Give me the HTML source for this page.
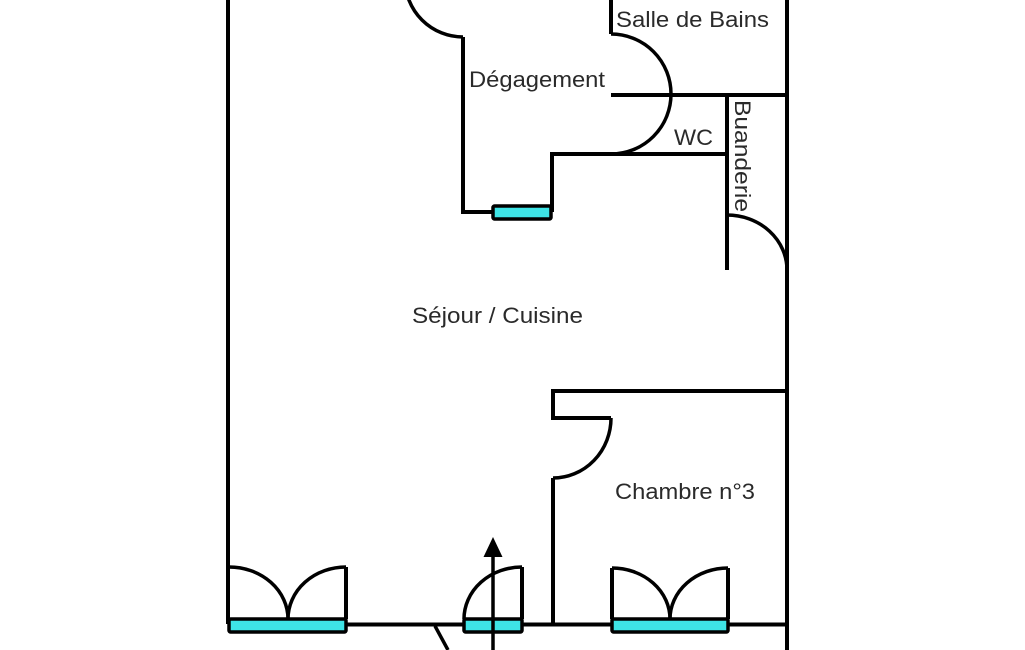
<!DOCTYPE html>
<html>
<head>
<meta charset="utf-8">
<style>
  html, body { margin:0; padding:0; background:#ffffff; }
  svg { display:block; }
  text { font-family: "Liberation Sans", Arial, sans-serif; fill:#2a2a2a; font-size:22px; }
</style>
</head>
<body>
<svg width="1025" height="650" viewBox="0 0 1025 650" xmlns="http://www.w3.org/2000/svg">
  <rect x="0" y="0" width="1025" height="650" fill="#ffffff"/>
  <g fill="none" stroke="#000" stroke-width="4" stroke-linecap="butt" stroke-linejoin="miter">
    <!-- outer walls -->
    <path d="M228,0 V624"/>
    <path d="M787,0 V650"/>
    <!-- bottom wall segments -->
    <path d="M346,624.5 H465"/>
    <path d="M522,624.5 H612"/>
    <path d="M728,624.5 H787"/>
    <!-- diagonal below -->
    <path d="M435,626 L448,650" stroke-width="3.5"/>

    <!-- top-left door arc and degagement wall -->
    <path d="M405,-21 A58,58 0 0 0 463,37" stroke-width="3.5"/>
    <path d="M463,37 V212 H493"/>
    <path d="M552,212 V154 H727"/>

    <!-- salle de bains -->
    <path d="M611,0 V34"/>
    <path d="M611,34 A60,60 0 0 1 611,154" stroke-width="3.5"/>
    <path d="M611,95 H787"/>

    <!-- buanderie -->
    <path d="M727,95 V270"/>
    <path d="M727,215 A60,55 0 0 1 787,270" stroke-width="3.5"/>

    <!-- chambre n°3 walls -->
    <path d="M787,391 H553 V418 H611"/>
    <path d="M611,418 A58,60 0 0 1 553,478" stroke-width="3.5"/>
    <path d="M553,478 V624"/>

    <!-- bottom-left double door leaves -->
    <path d="M229,567 A59,52 0 0 1 288,619" stroke-width="3.5"/>
    <path d="M346,567 V619"/>
    <path d="M346,567 A58,52 0 0 0 288,619" stroke-width="3.5"/>

    <!-- bottom middle door -->
    <path d="M522,567 V619"/>
    <path d="M522,567 A58,52 0 0 0 464,619" stroke-width="3.5"/>

    <!-- chambre double door leaves -->
    <path d="M612,568 V619"/>
    <path d="M612,568 A58,51 0 0 1 670,619" stroke-width="3.5"/>
    <path d="M728,568 V619"/>
    <path d="M728,568 A58,51 0 0 0 670,619" stroke-width="3.5"/>
  </g>

  <!-- windows -->
  <g fill="#3ee4e6" stroke="#000" stroke-width="3.5" stroke-linejoin="round">
    <rect x="229" y="619" width="117" height="13" rx="1.5"/>
    <rect x="464" y="619" width="58" height="13" rx="1.5"/>
    <rect x="612" y="619" width="116" height="13" rx="1.5"/>
    <rect x="493" y="206" width="58" height="13" rx="1.5"/>
  </g>

  <!-- entrance arrow -->
  <path d="M493,650 V553" fill="none" stroke="#000" stroke-width="3.5"/>
  <polygon points="493,537 483.5,557 502.5,557" fill="#000"/>

  <!-- labels -->
  <text x="616" y="27" textLength="153" lengthAdjust="spacingAndGlyphs">Salle de Bains</text>
  <text x="469" y="87" textLength="136" lengthAdjust="spacingAndGlyphs">Dégagement</text>
  <text x="674" y="145" textLength="39" lengthAdjust="spacingAndGlyphs">WC</text>
  <text transform="translate(735,100) rotate(90)" x="0" y="0" textLength="112" lengthAdjust="spacingAndGlyphs">Buanderie</text>
  <text x="412" y="323" textLength="171" lengthAdjust="spacingAndGlyphs">Séjour / Cuisine</text>
  <text x="615" y="499" textLength="140" lengthAdjust="spacingAndGlyphs">Chambre n°3</text>
</svg>
</body>
</html>
